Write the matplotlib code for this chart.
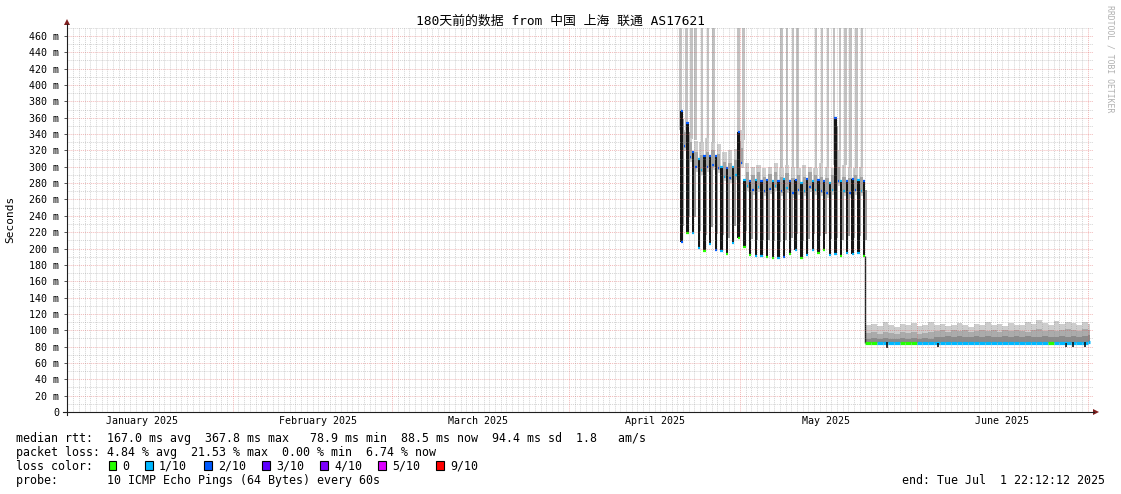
import matplotlib
matplotlib.use("Agg")
import matplotlib.pyplot as plt
import matplotlib.dates as mdates
from matplotlib.lines import Line2D
from matplotlib.patches import Polygon, Rectangle
import numpy as np
from datetime import datetime, timedelta

plt.rcParams["font.family"] = ["DejaVu Sans Mono", "Noto Sans CJK SC"]

W, H = 1121, 494

# --- Time range ---
end_time = datetime(2025, 7, 1, 22, 12, 12)
start_time = end_time - timedelta(days=180)
month_labels = ["January 2025", "February 2025", "March 2025", "April 2025", "May 2025", "June 2025"]

# --- High latency stretch: one deep dip per day (ms) ---
first_dip = datetime(2025, 4, 20, 18, 20)
peak_ms = [368, 353, 318, 310, 313, 313, 313, 300, 299, 300, 342, 284, 282, 284, 282, 284, 283,
           282, 285, 282, 284, 280, 285, 283, 284, 282, 280, 360, 283, 282, 285, 284, 282]
trough_ms = [208, 219, 219, 201, 197, 206, 198, 197, 193, 207, 213, 202, 192, 191, 191, 190, 189,
             188, 190, 193, 198, 189, 192, 198, 195, 198, 192, 193, 191, 195, 193, 195, 191]
peak_loss = [2, 2, 2, 1, 2, 2, 2, 1, 2, 1, 2, 1, 2, 1, 2, 2, 1,
             2, 1, 2, 2, 1, 2, 1, 2, 2, 1, 2, 1, 2, 2, 1, 2]
trough_loss = [2, 0, 1, 1, 0, 1, 2, 1, 0, 1, 0, 0, 0, 1, 1, 0, 0,
               1, 2, 0, 1, 0, 1, 1, 0, 0, 1, 1, 0, 1, 1, 1, 0]
plateau_ms = [325, 312, 300, 296, 300, 302, 298, 288, 286, 290, 305, 276, 272, 275, 270, 273,
              276, 270, 274, 268, 272, 270, 275, 272, 270, 268, 272, 282, 270, 268, 272, 270]
smoke_ms = [345, 335, 332, 330, 335, 330, 328, 318, 320, 322, 345, 305, 300, 302, 298, 300,
            305, 298, 302, 300, 298, 302, 300, 298, 305, 300, 298, 320, 302, 300, 298, 300]
# days after first_dip where single pings went off the scale
spike_days = [-0.2, 0.8, 1.75, 2.4, 3.6, 4.6, 5.6, 9.95, 10.8, 17.5, 18.5, 19.5, 20.3,
              23.6, 24.6, 25.7, 26.7, 27.8, 28.7, 29.6, 30.7, 31.6]

# --- Low latency stretch, daily values (ms) ---
low_start = datetime(2025, 5, 23, 0, 0)
low_end = datetime(2025, 7, 1, 10, 0)
low_median = [85, 85, 84, 85, 85, 84, 85, 85, 85, 84, 85, 84, 84, 84, 84, 85, 84, 84, 84, 85,
              84, 84, 85, 84, 84, 84, 85, 84, 84, 85, 84, 84, 85, 84, 84, 84, 84, 85, 84, 86]
low_dark = [89, 90, 89, 90, 89, 89, 90, 89, 90, 89, 90, 89, 92, 92, 93, 92, 93, 92, 92, 93,
            92, 93, 92, 92, 93, 92, 93, 92, 93, 92, 92, 93, 92, 92, 93, 92, 93, 92, 93, 94]
low_mid = [97, 98, 96, 98, 97, 96, 98, 97, 98, 96, 97, 98, 99, 100, 98, 100, 99, 100, 98, 99,
           100, 99, 100, 98, 100, 99, 100, 99, 98, 100, 101, 99, 100, 99, 100, 101, 100, 99, 101, 100]
low_light = [106, 108, 105, 110, 107, 104, 108, 106, 109, 105, 107, 110, 106, 108, 105, 107, 109, 106, 104, 108,
             107, 110, 106, 108, 105, 109, 107, 106, 110, 108, 112, 109, 107, 111, 108, 110, 109, 107, 110, 108]
low_loss = [0, 0, 1, 1, 1, 1, 0, 0, 0, 1, 1, 1, 1, 1, 1, 1, 1, 1, 1, 1,
            1, 1, 1, 1, 1, 1, 1, 1, 1, 1, 1, 1, 0, 1, 1, 1, 1, 1, 1, 1]
dip_days = [3.8, 12.7, 35.2, 36.4, 38.5]
dip_ms = [78, 80, 80, 79, 80]

loss_keys = [0, 1, 2, 3, 4, 5, 9]
loss_labels = ["0", "1/10", "2/10", "3/10", "4/10", "5/10", "9/10"]
loss_colors = ["#26ff00", "#00b8ff", "#0059ff", "#5e00ff", "#7e00ff", "#dd00ff", "#ff0000"]
lc = dict(zip(loss_keys, loss_colors))


def px(x, y):
    return x / W, 1 - y / H


fig = plt.figure(figsize=(W / 100, H / 100), dpi=100)
ax = fig.add_axes([67 / W, (H - 412) / H, 1026 / W, 384.2 / H])
t0 = mdates.date2num(start_time)
ax.set_xlim(t0, mdates.date2num(end_time))
ax.set_ylim(0, 470)
for s in ax.spines.values():
    s.set_visible(False)

# --- grid (rrdtool draws it over the data) ---
grid_c = (0.56, 0.56, 0.56, 0.38)
mgrid_c = (0.87, 0.31, 0.31, 0.40)
dot = (0, (1, 1))
for v in range(10, 471, 10):
    ax.axhline(v, color=mgrid_c if v % 20 == 0 else grid_c, lw=0.7, ls=dot, zorder=8)
d = datetime(start_time.year, start_time.month, start_time.day) + timedelta(days=1)
while d < end_time:
    ax.axvline(mdates.date2num(d), color=mgrid_c if d.day == 1 else grid_c, lw=0.7, ls=dot, zorder=8)
    d += timedelta(days=1)

# --- high latency stretch ---
dip_t = mdates.date2num(first_dip) + np.arange(len(peak_ms))
spike_t = mdates.date2num(first_dip) + np.array(spike_days)
plat_t = dip_t[:-1] + 0.5
pk = np.array(peak_ms)
tr = np.array(trough_ms)
pl = np.array(plateau_ms)

spike_base = np.interp(spike_t, plat_t, smoke_ms)
ax.bar(spike_t, 480 - spike_base, bottom=spike_base, width=0.45, color="#c2c2c2", lw=0, zorder=1)
ax.bar(plat_t, np.array(smoke_ms) - (pl - 6), bottom=pl - 6, width=0.75, color="#cfcfcf", lw=0, zorder=2)
ax.bar(plat_t, 20, bottom=pl - 2, width=0.6, color="#a4a4a4", lw=0, zorder=3)
ax.bar(dip_t + 0.3, pk - tr - 30, bottom=tr + 20, width=0.3, color="#9a9a9a", lw=0, zorder=4)
ax.bar(dip_t, pk - tr, bottom=tr, width=0.42, color="#161616", lw=0, zorder=5)
ax.hlines(pk, dip_t - 0.2, dip_t + 0.2, colors=[lc[k] for k in peak_loss], lw=1.6, zorder=6)
ax.hlines(tr, dip_t - 0.2, dip_t + 0.2, colors=[lc[k] for k in trough_loss], lw=1.6, zorder=6)
ax.hlines(pl, plat_t - 0.12, plat_t + 0.12, colors=[lc[k] for k in peak_loss[:-1]], lw=1.6, zorder=6)

# --- low latency stretch ---
lt = mdates.date2num(low_start) + np.arange(len(low_median) + 1, dtype=float)
lt[-1] = mdates.date2num(low_end)
ax.vlines(lt[0], low_median[0], trough_ms[-1], color="#111111", lw=1.0, zorder=6)
for top, bot, col in [(low_light, low_mid, "#cdcdcd"), (low_mid, low_dark, "#ababab"),
                      (low_dark, low_median, "#8a8a8a")]:
    ax.fill_between(lt, np.array(bot + bot[-1:]), np.array(top + top[-1:]), step="post",
                    color=col, lw=0, zorder=3)
for i, k in enumerate(low_loss):
    ax.hlines(low_median[i], lt[i], lt[i + 1], colors=lc[k], lw=2.3, zorder=6)
dt = mdates.date2num(low_start) + np.array(dip_days)
ax.vlines(dt, dip_ms, np.interp(dt, lt[:-1], low_median) + 1, color="#111111", lw=1.2, zorder=7)

# --- ticks ---
yt = list(range(0, 461, 20))
ax.set_yticks(yt)
ax.set_yticklabels(["0"] + [f"{v} m" for v in yt[1:]])
ax.tick_params(axis="y", length=2.5, width=0.7, color="#555555", labelsize=7.2, pad=3)
ax.set_xticks(mdates.date2num([datetime(2025, m, 16) for m in range(1, 7)]))
ax.set_xticklabels(month_labels)
ax.tick_params(axis="x", length=0, labelsize=7.2, pad=3)

# --- axes with arrows ---
axis_c = (0.12, 0.12, 0.12)
arrow_c = (0.5, 0.12, 0.12)
fig.add_artist(Line2D(*zip(px(67, 415), px(67, 24)), color=axis_c, lw=0.8))
fig.add_artist(Line2D(*zip(px(63, 412), px(1094, 412)), color=axis_c, lw=0.8))
fig.add_artist(Polygon([px(64, 25), px(70, 25), px(67, 19)], closed=True, color=arrow_c, lw=0))
fig.add_artist(Polygon([px(1093, 409), px(1093, 415), px(1099, 412)], closed=True, color=arrow_c, lw=0))

# --- texts ---
fig.text(*px(560.5, 21), "180天前的数据 from 中国 上海 联通 AS17621", ha="center", va="center", fontsize=9.3)
fig.text(*px(10, 219), "Seconds", rotation=90, ha="center", va="center", fontsize=8)
fig.text(*px(1110, 59), "RRDTOOL / TOBI OETIKER", rotation=270, ha="center", va="center",
         fontsize=5.9, color="#b0b0b0")

fs = 8.4
rows = [
    "median rtt:  167.0 ms avg  367.8 ms max   78.9 ms min  88.5 ms now  94.4 ms sd  1.8   am/s",
    "packet loss: 4.84 % avg  21.53 % max  0.00 % min  6.74 % now",
    "loss color:",
    "probe:       10 ICMP Echo Pings (64 Bytes) every 60s",
]
for i, r in enumerate(rows):
    fig.text(*px(16, 438 + 14 * i), r, ha="left", va="center", fontsize=fs)
box_x = [108.5, 145, 204, 262, 320, 378, 436]
for bx, col, lab in zip(box_x, loss_colors, loss_labels):
    fig.add_artist(Rectangle(px(bx, 470), 7.5 / W, 9 / H, transform=fig.transFigure,
                             facecolor=col, edgecolor="black", lw=0.8))
    fig.text(*px(bx + 14, 466), lab, ha="left", va="center", fontsize=fs)
fig.text(*px(1105, 480), "end: Tue Jul  1 22:12:12 2025", ha="right", va="center", fontsize=fs)

fig.savefig("out.png", dpi=100)
